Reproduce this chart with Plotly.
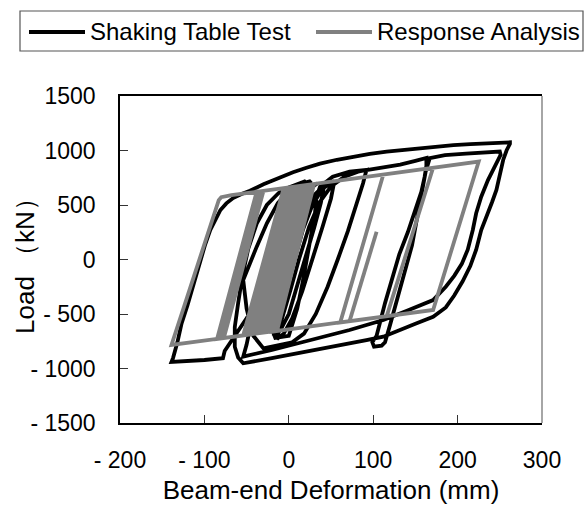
import plotly.graph_objects as go

# ---------------- data ----------------
# Shaking table test: beam-end deformation (mm) and load (kN)
test_disp = [
    0, 8, 18, 30, 42, 38, 30, 20, 10, 0, -10, -18, -12, -3, 7, 17, 28, 40, 54, 50, 40, 28, 16, 4, -6, -14,
    -8, 2, 12, 24, 36, 50, 66, 82, 92,
    88, 80, 70, 58, 46, 32, 18, 4, -20, -30,
    -42, -50, -54, -46, -38, -26, -13, -1, 12, 26,
    18, 6, -8, -22, -36, -50, -62, -70, -76, -78, -100, -139,
    -137, -132, -127, -120, -115, -110, -105, -99, -93, -87, -81, -74, -66, -56, -46, -30, -12, 5, 20, 37,
    57, 77, 96, 116, 136, 156, 175, 195, 215, 234, 250, 262,
    262, 258, 254, 250, 246, 241, 236, 228, 222, 215, 206, 196, 186, 171, 150, 130, 112, 92, 72, 45, 13, -20, -54,
    -60, -64, -64, -60, -55, -48, -38, -26, -12, 0, 20,
    14, 4, -6, -14, -20, -22, -16, 0,
    10, 17, 25, 31, 33, 37, 52, 72, 92, 112, 132, 150, 163,
    163, 161, 157, 150, 141, 131, 122, 114, 108, 104, 99, 101, 110, 114,
    120, 128, 135, 141, 146, 152, 158, 162, 167, 185, 210, 235, 250,
    251, 244, 236, 228, 222, 218, 212, 205, 196, 186, 171, 140, 112, 72, 40, 13, -20, -54,
    -50, -44, -36, -26, -14, 0, 16, 34,
]
test_load = [
    0, 200, 420, 590, 680, 520, 290, 20, -260, -500, -650, -700, -520, -270, 0, 280, 500, 650, 720, 560, 300, 10, -290, -540, -680, -730,
    -540, -280, 0, 300, 520, 670, 760, 805, 822,
    700, 500, 260, 0, -250, -500, -680, -760, -800, -815,
    -700, -450, -188, -30, 118, 332, 518, 622, 690, 720,
    560, 330, 100, -120, -340, -540, -680, -760, -840, -905, -922, -940,
    -900, -760, -586, -420, -280, -140, 0, 140, 271, 370, 454, 515, 564, 600, 630, 690, 750, 800, 840, 880,
    915, 945, 968, 990, 1006, 1022, 1038, 1050, 1058, 1066, 1070, 1075,
    1062, 1000, 913, 760, 638, 530, 424, 271, 90, -60, -200, -330, -440, -525, -590, -650, -708, -740, -770, -810, -861, -905, -952,
    -900, -800, -620, -400, -150, 100, 330, 500, 610, 660, 720,
    560, 330, 100, -150, -400, -600, -720, -700,
    -450, -188, 179, 427, 576, 668, 760, 806, 821, 845, 870, 905, 932,
    860, 760, 620, 450, 250, 50, -180, -400, -580, -700, -760, -800, -790, -760,
    -600, -380, -180, -30, 130, 380, 620, 800, 930, 958, 972, 984, 990,
    960, 852, 729, 576, 424, 271, 90, -40, -150, -250, -372, -470, -555, -647, -710, -769, -830, -891,
    -780, -560, -300, -50, 220, 430, 600, 700,
]

# Response analysis: beam-end deformation (mm) and load (kN); None = pen lift
ana_disp = [
    0, 14, -30, 18, -26, 22, -22, 26, -18, 30, -14, 10, -34, 6, -38, 2, -42, -2, -46,
    -44, 0, -40, 4, -36, 8, -32, 12, -28, 16, -24, 20, -20, 24, -16, 28, -16,
    -54, -6, -50, -85, -38, -30, -77, -81, -34, -30, -78, -85, -139,
    -124, -110, -96, -86, -83, -80, -75, -68,
    225, 171, 116, 171, 116, 61, 112, 61, -20, 22,
    None, 72, 104,
]
ana_load = [
    0, 677, -671, 681, -667, 685, -663, 689, -659, 693, -656, 672, -675, 668, -679, 664, -684, 660, -688,
    -686, 662, -681, 666, -677, 670, -673, 675, -669, 679, -665, 683, -661, 687, -657, 691, -657,
    -696, 656, -692, -729, 623, 630, -720, -724, 627, 630, -721, -729, -784,
    -430, -100, 230, 470, 545, 572, 583, 590,
    899, -463, -520, 842, -520, -577, 780, -577, -662, 686,
    None, -565, 255,
]

series_names = ["Shaking Table Test", "Response Analysis"]
x_ticks = [-200, -100, 0, 100, 200, 300]
x_tick_text = ["- 200", "- 100", "0", "100", "200", "300"]
y_ticks = [-1500, -1000, -500, 0, 500, 1000, 1500]
y_tick_text = ["- 1500", "- 1000", "- 500", "0", "500", "1000", "1500"]
x_title = "Beam-end Deformation (mm)"
y_title = "Load （kN）"

# ---------------- figure ----------------
W, H = 586, 509
L, R, T, B = 120, 44, 96, 86
PW, PH = W - L - R, H - T - B


def px_x(px):
    return (px - L) / PW


def px_y(py):
    return 1 - (py - T) / PH


FONT = "Liberation Sans, Arial, sans-serif"
BLACK = "#000000"
GRAY = "#808080"

fig = go.Figure()
fig.add_trace(go.Scatter(x=test_disp, y=test_load, mode="lines", name=series_names[0],
                         line=dict(color=BLACK, width=3.8), showlegend=False))
fig.add_trace(go.Scatter(x=ana_disp, y=ana_load, mode="lines", name=series_names[1],
                         line=dict(color=GRAY, width=3.8), showlegend=False, connectgaps=False))

fig.update_layout(
    width=W, height=H,
    margin=dict(l=L, r=R, t=T, b=B),
    paper_bgcolor="white", plot_bgcolor="white",
    font=dict(family=FONT, color=BLACK),
    showlegend=False,
)
fig.update_xaxes(
    range=[-200, 300], tickvals=x_ticks, ticktext=x_tick_text, automargin=False,
    ticks="inside", ticklen=8, tickwidth=1.2, tickcolor="#333",
    showgrid=False, zeroline=False, showline=True, linecolor=BLACK, linewidth=1.5, mirror=True,
    tickfont=dict(size=23, family=FONT, color=BLACK), ticklabelstandoff=16,
    title=dict(text=x_title, font=dict(size=26, family=FONT, color=BLACK), standoff=8),
)
fig.update_yaxes(
    range=[-1500, 1500], tickvals=y_ticks, ticktext=y_tick_text, automargin=False,
    ticks="inside", ticklen=8, tickwidth=1.2, tickcolor="#333",
    showgrid=False, zeroline=False, showline=True, linecolor=BLACK, linewidth=1.5, mirror=False,
    tickfont=dict(size=23, family=FONT, color=BLACK), ticklabelstandoff=18,
)

shapes = [
    # right border of plot frame (gray)
    dict(type="line", xref="paper", yref="paper", x0=1, x1=1, y0=0, y1=1,
         line=dict(color="#888888", width=1.5)),
    # legend box
    dict(type="rect", xref="paper", yref="paper", x0=px_x(20), x1=px_x(583), y0=px_y(51), y1=px_y(11),
         line=dict(color="#555555", width=1.2), fillcolor="rgba(0,0,0,0)"),
    dict(type="line", xref="paper", yref="paper", x0=px_x(29), x1=px_x(85), y0=px_y(32), y1=px_y(32),
         line=dict(color=BLACK, width=4)),
    dict(type="line", xref="paper", yref="paper", x0=px_x(316), x1=px_x(372), y0=px_y(32), y1=px_y(32),
         line=dict(color=GRAY, width=4)),
]
annotations = [
    dict(text=series_names[0], xref="paper", yref="paper", x=px_x(88), y=px_y(31),
         xanchor="left", yanchor="middle", showarrow=False,
         font=dict(size=24, family=FONT, color=BLACK)),
    dict(text=series_names[1], xref="paper", yref="paper", x=px_x(375), y=px_y(31),
         xanchor="left", yanchor="middle", showarrow=False,
         font=dict(size=24, family=FONT, color=BLACK)),
    dict(text=y_title, xref="paper", yref="paper", x=px_x(25), y=px_y(260),
         xanchor="center", yanchor="middle", textangle=-90, showarrow=False,
         font=dict(size=26, family=FONT, color=BLACK)),
]
fig.update_layout(shapes=shapes, annotations=annotations)

fig.write_html("out.html")
